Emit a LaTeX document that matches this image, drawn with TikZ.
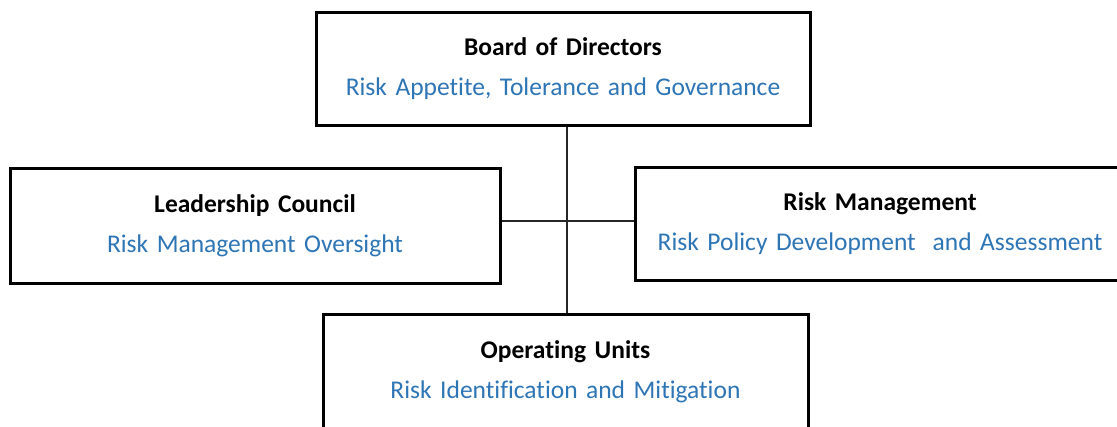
\documentclass[tikz,border=0pt]{standalone}
\usepackage{fontspec}
\setmainfont{Carlito}[RawFeature=-liga]
\usepackage{tikz}
\usetikzlibrary{positioning}
\definecolor{riskblue}{RGB}{46,117,182}
\tikzset{
  unitbox/.style={draw=black,line width=3pt,fill=white,inner sep=0pt,
    text width=#1,align=center,minimum height=113pt,
    font=\fontsize{25.5}{40}\selectfont},
  unitbox/.default=480pt,
  link/.style={line width=1.6pt,black!85}
}
\newcommand{\unittext}[2]{\textbf{#1}\\{\color{riskblue}#2}}
\begin{document}
\begin{tikzpicture}[x=1pt,y=-1pt]
    \clip (0,0) rectangle (1117,426);
    \fill[white] (0,0) rectangle (1117,426);
    \coordinate (hub) at (567,221);
    % Boxes
    \node[unitbox=494pt] (board) at (563,69) {\unittext{Board of Directors}{Risk Appetite, Tolerance and Governance}};
    \node[unitbox=490pt,minimum height=115pt] (lead) at (255,225.5) {\unittext{Leadership Council}{Risk Management Oversight}};
    \node[unitbox=490pt] (riskm) at (880,223.5) {\unittext{Risk Management}{Risk Policy Development\ \ and Assessment}};
    \node[unitbox=485pt,minimum height=116pt] (ops) at (565.5,372) {\unittext{Operating Units}{Risk Identification and Mitigation}};
    % Links
    \draw[link] (board.south -| hub) -- (ops.north -| hub);
    \draw[link] (lead.east |- hub) -- (riskm.west |- hub);
\end{tikzpicture}
\end{document}
